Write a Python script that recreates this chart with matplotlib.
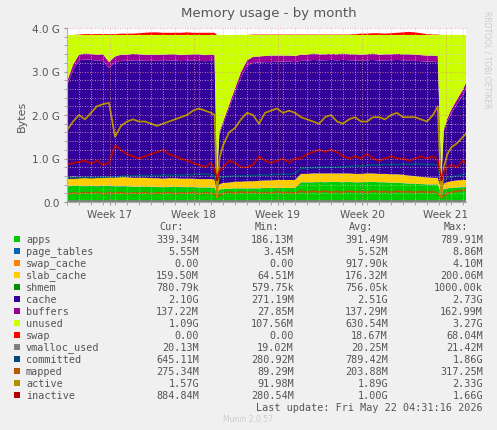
import numpy as np
import matplotlib.pyplot as plt
from matplotlib.ticker import MultipleLocator

# time axis in days from left edge of the graph
days = [0, 0.5, 1, 1.5, 2, 2.5, 3, 3.5, 4, 4.5, 5, 5.5, 6, 6.5, 7, 7.5, 8, 8.5, 9, 9.5, 10, 10.5, 11, 11.5, 12,
        12.3, 12.5, 12.7,
        13, 13.5, 14, 14.5, 15, 15.5, 16, 16.5, 17, 17.5, 18, 18.5, 19,
        19.5, 20, 20.5, 21, 21.5, 22, 22.5, 23, 23.5, 24, 24.5, 25, 25.5, 26, 26.5, 27, 27.5, 28, 28.5, 29, 29.5, 30, 30.5,
        30.9, 31.2, 31.4, 31.7,
        32, 32.5, 33, 33.25]

# values in GB
apps = [0.36, 0.37, 0.37, 0.36, 0.37, 0.36, 0.37, 0.37, 0.36, 0.36, 0.36, 0.35, 0.35, 0.35, 0.35, 0.34, 0.34, 0.34, 0.35, 0.34, 0.34, 0.34, 0.33, 0.33, 0.33,
        0.32, 0.20, 0.28,
        0.30, 0.30, 0.31, 0.31, 0.31, 0.31, 0.31, 0.32, 0.32, 0.32, 0.32, 0.32, 0.32,
        0.45, 0.45, 0.45, 0.46, 0.45, 0.46, 0.46, 0.45, 0.46, 0.45, 0.45, 0.46, 0.46, 0.45, 0.45, 0.44, 0.44, 0.43, 0.42, 0.42, 0.41, 0.40, 0.40,
        0.40, 0.19, 0.30, 0.31,
        0.32, 0.33, 0.34, 0.34]
page_tables = [0.0055] * len(days)
swap_cache = [0.0] * len(days)
slab_cache = [0.20, 0.21, 0.20, 0.21, 0.20, 0.20, 0.21, 0.20, 0.20, 0.21, 0.20, 0.20, 0.20, 0.20, 0.19, 0.20, 0.19, 0.20, 0.19, 0.19, 0.19, 0.19, 0.19, 0.19, 0.19,
              0.19, 0.07, 0.12,
              0.13, 0.14, 0.15, 0.15, 0.16, 0.16, 0.17, 0.17, 0.17, 0.18, 0.18, 0.18, 0.18,
              0.19, 0.19, 0.20, 0.19, 0.20, 0.19, 0.19, 0.20, 0.19, 0.19, 0.19, 0.19, 0.19, 0.19, 0.19, 0.19, 0.19, 0.19, 0.18, 0.17, 0.16, 0.16, 0.15,
              0.15, 0.07, 0.12, 0.14,
              0.15, 0.16, 0.16, 0.16]
shmem = [0.0008] * len(days)
cache = [2.10, 2.45, 2.68, 2.70, 2.69, 2.68, 2.66, 2.50, 2.64, 2.67, 2.68, 2.70, 2.70, 2.69, 2.70, 2.70, 2.71, 2.70, 2.71, 2.70, 2.71, 2.72, 2.72, 2.71, 2.72,
         2.72, 0.27, 1.15,
         1.35, 1.70, 2.05, 2.40, 2.65, 2.72, 2.72, 2.72, 2.72, 2.72, 2.72, 2.72, 2.71,
         2.60, 2.60, 2.61, 2.60, 2.60, 2.61, 2.60, 2.61, 2.60, 2.61, 2.60, 2.60, 2.61, 2.60, 2.61, 2.62, 2.63, 2.63, 2.64, 2.65, 2.66, 2.66, 2.67,
         2.66, 0.27, 1.20, 1.40,
         1.55, 1.75, 1.95, 2.10]
buffers = [0.10, 0.12, 0.13, 0.14, 0.14, 0.14, 0.15, 0.14, 0.14, 0.14, 0.14, 0.15, 0.14, 0.14, 0.14, 0.14, 0.14, 0.15, 0.14, 0.14, 0.14, 0.14, 0.15, 0.14, 0.14,
           0.14, 0.03, 0.05,
           0.06, 0.08, 0.10, 0.12, 0.13, 0.14, 0.14, 0.14, 0.15, 0.14, 0.14, 0.14, 0.14,
           0.14, 0.14, 0.15, 0.14, 0.14, 0.14, 0.14, 0.15, 0.14, 0.14, 0.14, 0.14, 0.15, 0.14, 0.14, 0.14, 0.14, 0.14, 0.15, 0.14, 0.14, 0.14, 0.14,
           0.14, 0.03, 0.05, 0.07,
           0.09, 0.11, 0.13, 0.137]
swap = [0, 0, 0.01, 0.02, 0.02, 0.02, 0.02, 0.02, 0.02, 0.03, 0.03, 0.03, 0.04, 0.05, 0.06, 0.06, 0.05, 0.05, 0.05, 0.05, 0.06, 0.05, 0.05, 0.05, 0.05,
        0.05, 0, 0,
        0, 0, 0, 0, 0, 0.01, 0.01, 0.01, 0.01, 0.01, 0.01, 0.01, 0.01,
        0.01, 0.01, 0.01, 0.01, 0.01, 0.01, 0.01, 0.01, 0.01, 0.02, 0.03, 0.03, 0.04, 0.04, 0.03, 0.04, 0.05, 0.06, 0.07, 0.06, 0.04, 0.02, 0.01,
        0.01, 0, 0, 0,
        0, 0, 0, 0]
mem_total = 3.84

vmalloc_used = [0.02] * len(days)
committed = [0.55, 0.55, 0.56, 0.57, 0.56, 0.57, 0.57, 0.58, 0.58, 0.59, 0.60, 0.60, 0.61, 0.61, 0.60, 0.61, 0.62, 0.62, 0.62, 0.62, 0.63, 0.63, 0.64, 0.64, 0.63,
             0.60, 0.35, 0.55,
             0.58, 0.59, 0.60, 0.60, 0.60, 0.61, 0.62, 0.62, 0.63, 0.63, 0.64, 0.64, 0.65,
             0.78, 0.78, 0.79, 0.79, 0.80, 0.80, 0.80, 0.81, 0.82, 0.83, 0.83, 0.84, 0.85, 0.85, 0.86, 0.86, 0.86, 0.87, 0.86, 0.87, 0.87, 0.86, 0.86,
             0.85, 0.35, 0.50, 0.55,
             0.58, 0.60, 0.63, 0.645]
mapped = [0.18, 0.21, 0.19, 0.22, 0.20, 0.22, 0.19, 0.21, 0.20, 0.22, 0.19, 0.21, 0.20, 0.22, 0.19, 0.21, 0.20, 0.22, 0.19, 0.21, 0.20, 0.22, 0.19, 0.21, 0.20,
          0.18, 0.12, 0.15,
          0.20, 0.23, 0.20, 0.23, 0.21, 0.23, 0.20, 0.22, 0.20, 0.23, 0.21, 0.22, 0.20,
          0.25, 0.22, 0.25, 0.23, 0.25, 0.22, 0.24, 0.22, 0.25, 0.23, 0.24, 0.22, 0.25, 0.23, 0.24, 0.22, 0.25, 0.23, 0.24, 0.22, 0.24, 0.22, 0.24,
          0.20, 0.10, 0.15, 0.20,
          0.22, 0.25, 0.27, 0.275]
active = [1.65, 1.85, 2.00, 1.90, 2.05, 2.20, 2.25, 2.28, 1.50, 1.75, 1.85, 1.90, 1.85, 1.85, 1.80, 1.75, 1.80, 1.85, 1.90, 1.95, 2.00, 2.10, 2.15, 2.10, 2.05,
          2.00, 0.10, 1.00,
          1.30, 1.60, 1.70, 1.90, 2.05, 2.00, 1.80, 2.05, 2.10, 2.15, 2.05, 2.10, 2.05,
          1.95, 1.90, 1.85, 1.80, 1.95, 2.00, 1.85, 1.80, 1.90, 1.95, 1.85, 1.85, 1.95, 1.95, 1.90, 2.00, 2.05, 1.95, 1.95, 1.95, 1.90, 1.85, 2.00,
          2.20, 0.10, 0.80, 1.10,
          1.25, 1.35, 1.50, 1.57]
inactive = [0.85, 0.90, 0.92, 0.95, 0.88, 0.95, 0.85, 0.90, 1.30, 1.20, 1.10, 1.05, 1.00, 1.05, 1.10, 1.15, 1.20, 1.10, 1.05, 1.00, 0.95, 0.90, 0.85, 0.80, 0.90,
            0.75, 0.50, 0.70,
            0.80, 0.95, 0.90, 0.80, 0.80, 0.85, 1.05, 0.95, 0.90, 0.95, 1.00, 0.90, 1.00,
            1.00, 1.10, 1.15, 1.20, 1.15, 1.20, 1.15, 1.05, 1.00, 1.05, 1.00, 1.10, 1.00, 0.95, 1.00, 1.05, 1.00, 1.00, 0.95, 1.00, 1.05, 1.00, 1.05,
            0.95, 0.50, 0.70, 0.80,
            0.85, 0.80, 0.95, 0.88]

week_labels = ["Week 17", "Week 18", "Week 19", "Week 20", "Week 21"]
first_week_day = 3.58

legend_names = ["apps", "page_tables", "swap_cache", "slab_cache", "shmem", "cache", "buffers", "unused",
                "swap", "vmalloc_used", "committed", "mapped", "active", "inactive"]
legend_colors = ["#00CC00", "#0066B3", "#FF8000", "#FFCC00", "#008F00", "#330099", "#990099", "#CCFF00",
                 "#FF0000", "#808080", "#00487D", "#B35A00", "#B38F00", "#B30000"]
cur = ["339.34M", "5.55M", "0.00", "159.50M", "780.79k", "2.10G", "137.22M", "1.09G", "0.00", "20.13M", "645.11M", "275.34M", "1.57G", "884.84M"]
mins = ["186.13M", "3.45M", "0.00", "64.51M", "579.75k", "271.19M", "27.85M", "107.56M", "0.00", "19.02M", "280.92M", "89.29M", "91.98M", "280.54M"]
avgs = ["391.49M", "5.52M", "917.90k", "176.32M", "756.05k", "2.51G", "137.29M", "630.54M", "18.67M", "20.25M", "789.42M", "203.88M", "1.89G", "1.00G"]
maxs = ["789.91M", "8.86M", "4.10M", "200.06M", "1000.00k", "2.73G", "162.99M", "3.27G", "68.04M", "21.42M", "1.86G", "317.25M", "2.33G", "1.66G"]

W, H = 497, 431
fig = plt.figure(figsize=(W / 100, H / 100), dpi=100, facecolor="#F0F0F0")
ax = fig.add_axes([67 / W, (H - 203) / H, 399 / W, 174 / H])
ax.set_facecolor("white")

d = np.array(days)
used = np.array(apps) + np.array(page_tables) + np.array(swap_cache) + np.array(slab_cache) + np.array(shmem) + np.array(cache) + np.array(buffers)
unused = mem_total - used
ax.stackplot(d, apps, page_tables, swap_cache, slab_cache, shmem, cache, buffers, unused, swap,
             colors=legend_colors[:9], linewidth=0, zorder=1)
lines = [vmalloc_used, committed, mapped, active, inactive]
for vals, col in zip(lines, legend_colors[9:]):
    ax.plot(d, vals, color=col, lw=1.3, zorder=2)

ax.set_xlim(0, 33.25)
ax.set_ylim(0, 4.0)
ax.xaxis.set_minor_locator(MultipleLocator(1))
ax.yaxis.set_minor_locator(MultipleLocator(0.2))
ax.set_yticks([0, 1, 2, 3, 4])
ax.set_yticklabels(["0.0", "1.0 G", "2.0 G", "3.0 G", "4.0 G"])
ax.set_xticks([first_week_day + 7 * i for i in range(len(week_labels))])
ax.set_xticklabels(week_labels)
ax.grid(which="minor", color="#C8C8C8", ls=(0, (1, 2)), lw=0.6, zorder=3)
ax.grid(which="major", color="#E09090", ls=(0, (1, 2)), lw=0.6, zorder=3)
ax.set_axisbelow(False)
ax.tick_params(which="both", length=2, colors="#999999", labelcolor="#555555", labelsize=7.5, pad=3)
for s in ["top", "right"]:
    ax.spines[s].set_visible(False)
for s in ["left", "bottom"]:
    ax.spines[s].set_color("#AAAAAA")
ax.set_ylabel("Bytes", color="#555555", fontsize=8)

fig.text(0.5 + 20 / W, 1 - 14 / H, "Memory usage - by month", ha="center", va="center", fontsize=9.5, color="#555555")
fig.text(487 / W, 1 - 60 / H, "RRDTOOL / TOBI OETIKER", rotation=270, ha="center", va="center", fontsize=5.5, color="#CCCCCC")

mono = "DejaVu Sans Mono"
fs = 7.3
col_x = [199, 294, 388, 483]
for x, head in zip(col_x, ["Cur:", "Min:", "Avg:", "Max:"]):
    fig.text(x / W - 0.03, 1 - 227 / H, head, ha="right", va="center", family=mono, fontsize=fs, color="#555555")
for i, name in enumerate(legend_names):
    y = 1 - (240 + 12 * i) / H
    fig.patches.append(plt.Rectangle((14 / W, y - 3 / H), 6 / W, 6 / H, transform=fig.transFigure,
                                     facecolor=legend_colors[i], edgecolor="none"))
    fig.text(26 / W, y, name, ha="left", va="center", family=mono, fontsize=fs, color="#555555")
    for x, vals in zip(col_x, [cur, mins, avgs, maxs]):
        fig.text(x / W, y, vals[i], ha="right", va="center", family=mono, fontsize=fs, color="#555555")
fig.text(483 / W, 1 - 408 / H, "Last update: Fri May 22 04:31:16 2026", ha="right", va="center",
         family=mono, fontsize=fs, color="#555555")
fig.text(248 / W, 1 - 420 / H, "Munin 2.0.57", ha="center", va="center", fontsize=5.5, color="#CCCCCC")

fig.savefig("out.png", dpi=100, facecolor=fig.get_facecolor())
